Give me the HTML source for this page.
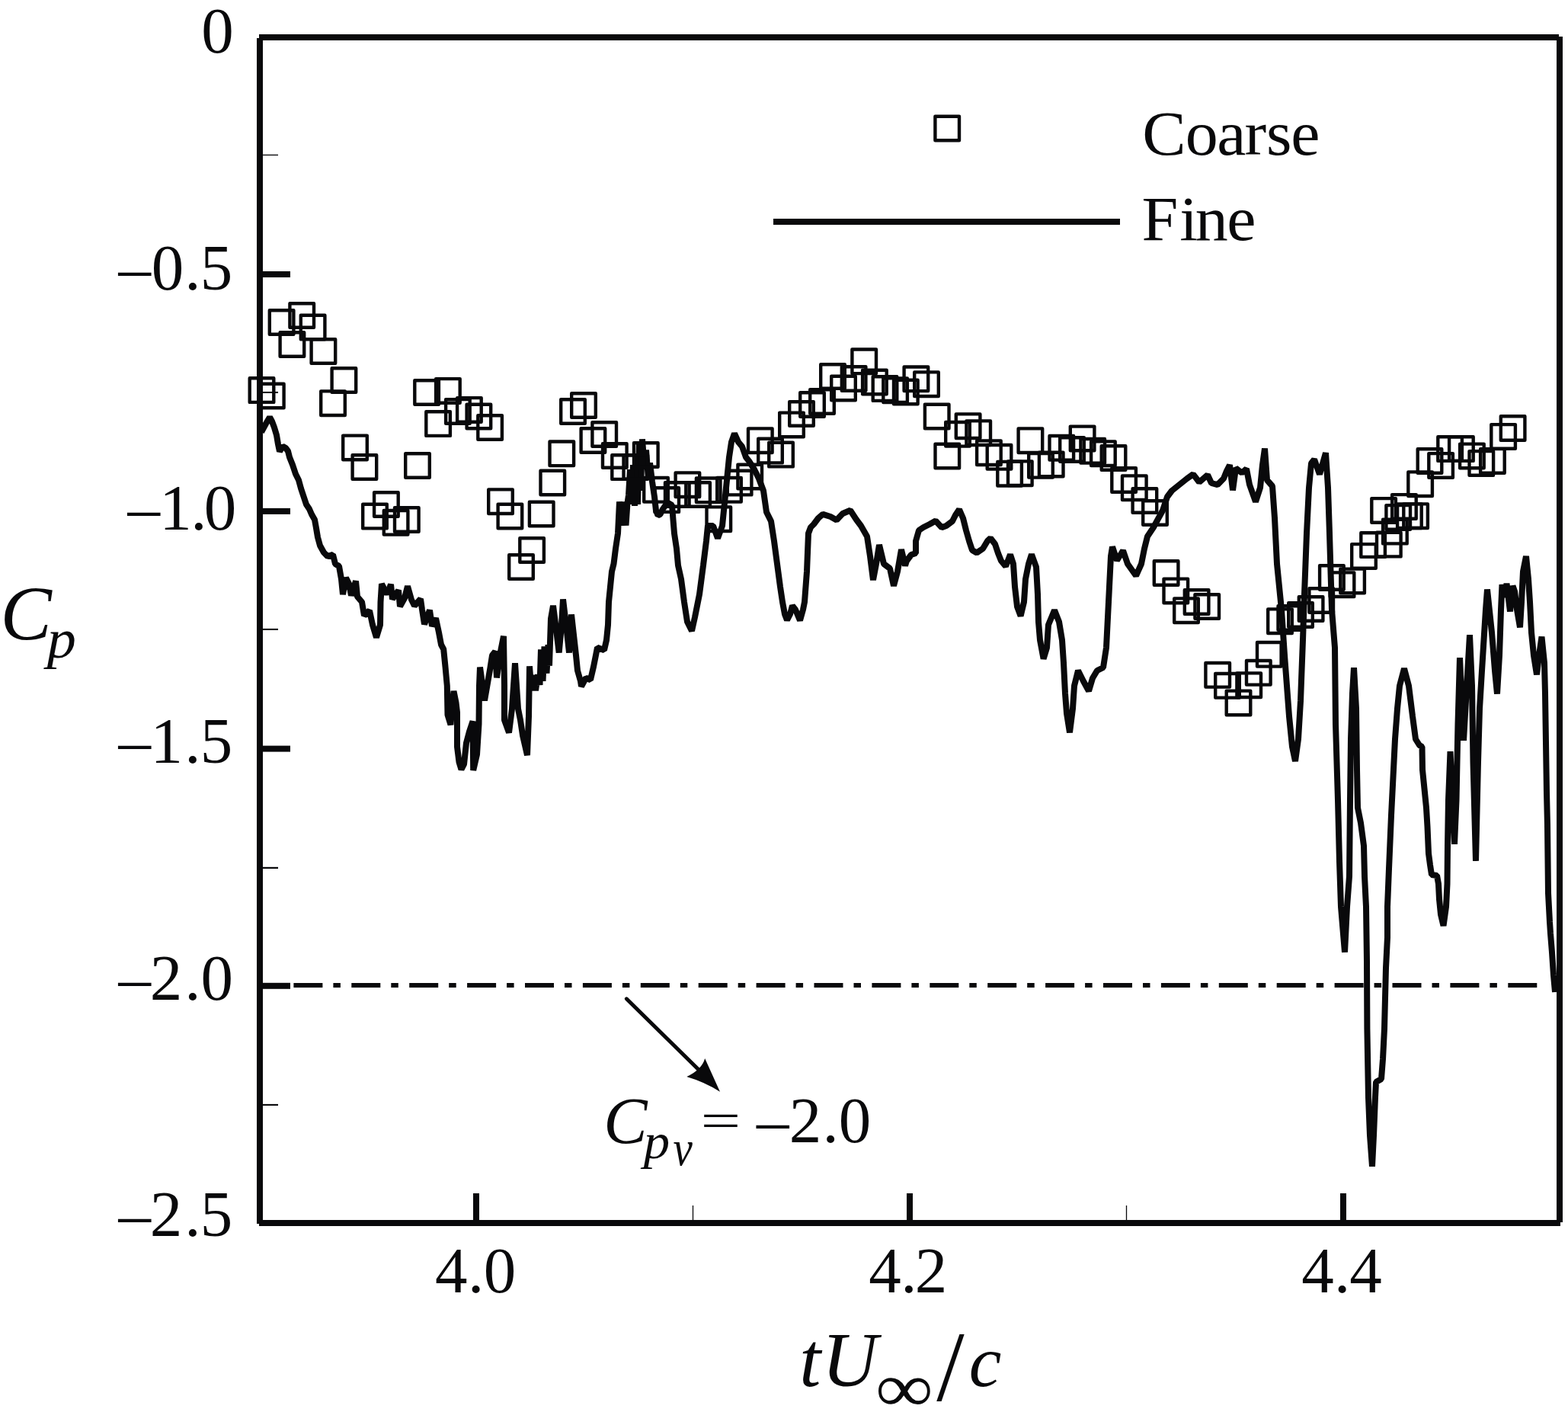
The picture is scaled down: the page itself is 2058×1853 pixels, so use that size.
<!DOCTYPE html>
<html lang="en">
<head>
<meta charset="utf-8">
<title>Cp time history: coarse vs fine</title>
<style>
html,body{margin:0;padding:0;background:#fff;}
body{width:2058px;height:1853px;overflow:hidden;}
svg{display:block;}
text{white-space:pre;}
</style>
</head>
<body>
<svg xmlns="http://www.w3.org/2000/svg" width="2058" height="1853" viewBox="0 0 2058 1853">
<g fill="#09090b">
<rect x="340" y="45" width="1706" height="8"/>
<rect x="340" y="1601" width="1708" height="8"/>
<rect x="337" y="50" width="8" height="1556"/>
<rect x="2043" y="48" width="8" height="1556"/>
<rect x="344" y="356" width="37" height="8"/>
<rect x="344" y="666.9" width="37" height="8"/>
<rect x="344" y="978.6" width="37" height="8"/>
<rect x="344" y="1289.8" width="37" height="8"/>
<rect x="621" y="1566" width="8" height="36"/>
<rect x="1190" y="1566" width="8" height="36"/>
<rect x="1759" y="1566" width="8" height="36"/>
<rect x="344" y="202.76" width="21" height="1.36"/>
<rect x="344" y="513.97" width="21" height="2.03"/>
<rect x="344" y="824.9" width="21" height="2.1"/>
<rect x="344" y="1137.8" width="21" height="2.24"/>
<rect x="344" y="1448.87" width="21" height="2.11"/>
<rect x="908.85" y="1582" width="1.3" height="20"/>
<rect x="1477.85" y="1582" width="1.3" height="20"/>
</g>
<line x1="385.4" y1="1293" x2="2017.4" y2="1293" stroke="#09090b" stroke-width="6" stroke-dasharray="38 14 9.5 14.4"/>
<clipPath id="plotclip"><rect x="341" y="49" width="1706" height="1556"/></clipPath>
<polyline clip-path="url(#plotclip)" fill="none" stroke="#09090b" stroke-width="8" stroke-linejoin="bevel" points="343,567 349,556 354,547.4 357,553 360,561 363,571 365,583 367,592.5 371,585.58 375,588 378,592 380,600 384,610 388,622 392,630 395,641 399,653 402,662 406,668 409,675 413,682 415,693 417,705 420,716 425,725 430,730.15 437,727.85 440,740 445,743 448,760 450,780.08 454,758.22 458,766 461,781.42 467,762.58 469,783 475,790 478,807.75 485,801.25 489,820 494,836.65 499,820 499.5,790 501,766.29 508,779.71 513,766.94 515,786.34 523,774.66 525,795.78 531,785 535,769.26 540,787 544,794.99 552,786.01 554,800 557,819.21 564,800.79 567,821.68 572,811.32 576,830 579,846 582.2,852 584.5,875 586.8,900 587.5,938 591.5,951.08 593.8,922 595.5,906.97 598.5,922 600,935 600,980 602.5,1000 605.5,1009.71 609,1003 612,975 616,960 620.5,946.51 621.2,1010.97 626,990 628.5,950 629,900 630,875.64 636,919.26 643,879 646,860 650,854.83 652,889.39 656,860 661,834.89 662,900 662,945 668,961.42 672,930 676,870.28 680,930 683,945 686,965 692,990.99 694,940 695,874.4 697.5,906.03 701,885.97 703,906.22 706,885.19 708.5,898.81 710,852.29 712.5,893.71 714.5,848.43 717.5,883.57 719.5,846.3 721,873.7 723,812 726,794.84 730,826 733.7,856.46 737,820 739,786.53 743,820 747,856.52 750,806.48 756,860 758,880 762,894 763,900.78 769,889.79 775,892.21 779,875 782,860 784,849.79 793,853.21 796,840 798,820 799,790 801,770 803,750 805.5,740 808,720 811,700 813,658.5 816,689.5 818.5,658.5 821.5,689.5 823.5,660 825,650 827,616.27 829,661.79 831,610.18 833,663.83 835,598.14 837,661.86 839,583.15 841,643.85 843,576.37 846,615.56 848,590.44 851,629.47 853,607.57 856,632 859,652 861,670 863.5,676.21 866.5,675 870,668 876,659.58 882,663 883.5,682 885,700 888,720 890,742 894,760 898,790 902,816 908,827.94 912,810 918,780 923,742 927,710 929,690 936,690 942,706.42 948,690 951,660 954,630 957,600 960,580 964,568.94 969,580 974,586 979,600 983,605 990,616 996,628 1002,644 1006,672 1012,684 1016,710 1020,740 1024,770 1027,790 1030,806 1033,813.78 1037,806 1040,794.83 1044,800 1050,814.21 1054,800 1056,790 1059,750 1061,700 1064,692 1068,688 1074,680 1080,674.83 1090,678 1098,682.42 1106,674 1116,669.71 1124,682 1130,690 1138,704 1142,730 1146,761.13 1150,740 1154,715.05 1160,740 1168,746 1173,768.81 1178,750 1183,721.19 1188,742.21 1190,736 1196,728 1202,726 1202,710 1206,696 1212,692 1220,688 1228,683.58 1236,692.21 1242,690 1250,684 1254,676 1259,668.56 1264,680 1268,696 1272,710 1276,722 1282,725.42 1290,720 1296,710 1300,706.2 1306,714 1310,726 1314,736 1320,743.17 1326,727.79 1330,740 1332,770 1335,796 1339.6,808.33 1344,790 1346,760 1350,740 1354,727.58 1360,744 1362,780 1363,816 1365,840 1369.6,864.62 1374,850 1376,820 1384,800.7 1390,816 1394,840 1396,870 1398,910 1400,936 1404,961.28 1408,930 1410,900 1415,880.02 1422,894 1429,906.85 1434,890 1440,880 1448,876 1452,850 1454,810 1456,770 1458,730 1460,717.58 1466,735.5 1474,722.5 1480,740 1491,755.53 1498,740 1502,720 1506,704 1514,692 1526,670 1532,652 1538,644 1548,636 1558,628 1566,622.39 1574,632.77 1585,623.23 1590,634 1598,636.12 1606,628 1610,618 1614,610.22 1618,643.37 1622,614.39 1630,620.61 1636,615.33 1640,636 1648,658.51 1654,640 1657,610 1660,588.66 1663,630 1670,638 1673,680 1676,740 1682,800 1686,860 1689,900 1692,940 1696,980 1700,999.03 1704,970 1707,920 1710,840 1712,780 1715,700 1718,640 1721,608 1725,602.83 1732,622.4 1740,594.31 1743,640 1745,700 1748,800 1752,850 1753,950 1756,1050 1758,1130 1760,1190 1765,1249.64 1768,1190 1771,1150 1772,1050 1773,970 1775,910 1777,876.27 1780,930 1781,1010 1782,1060 1786,1080 1790,1110 1791,1150 1793,1190 1794,1262 1794.4,1350 1796,1440 1798,1490 1801,1530.68 1803,1490 1805,1440 1806,1420 1813,1416 1815,1390 1817,1350 1818,1310 1819,1270 1821,1230 1821,1190 1823,1140 1826,1070 1829,1010 1831,970 1834,930 1837,900 1843,877.15 1849,900 1854,940 1858,970 1863,978 1866.5,980 1867,1010 1870,1040 1872,1060 1873.5,1085 1875,1120 1877,1135 1879,1148 1886,1149 1888,1160 1889,1180 1891,1200 1894.5,1214.88 1898,1190 1899.5,1160 1900,1110 1901,1050 1903.5,986.2 1906,1040 1909,1107.81 1911.5,1050 1913.5,950 1916,863.2 1921,971.76 1929,833.24 1932,900 1933.5,1000 1937,1129.89 1940,1000 1942,930 1945,880 1950,800 1952,773.45 1958,830 1962,880 1965,910.56 1968,860 1970,800 1971.5,767.21 1975,783.79 1977.5,765.82 1982,802.41 1985.5,768.79 1988,776 1991,800 1995,823.22 1997,790 1999,750 2003,729.92 2006,760 2008,790 2010,830 2013,860 2017,885.28 2020,860 2023.5,835.66 2027,870 2028,910 2029,975 2030,1040 2031,1083 2032,1172 2034,1210 2035,1225 2037,1250 2039,1280 2041,1302"/>
<g fill="none" stroke="#09090b" stroke-width="4.4" stroke-linejoin="round">
<rect x="327.7" y="496.3" width="31.6" height="31.6"/>
<rect x="341" y="503.7" width="31.6" height="31.6"/>
<rect x="353.8" y="407.2" width="31.6" height="31.6"/>
<rect x="367.6" y="436.2" width="31.6" height="31.6"/>
<rect x="380.4" y="398.2" width="31.6" height="31.6"/>
<rect x="394.8" y="413.7" width="31.6" height="31.6"/>
<rect x="408.6" y="445.2" width="31.6" height="31.6"/>
<rect x="421.2" y="513.4" width="31.6" height="31.6"/>
<rect x="435.6" y="483.2" width="31.6" height="31.6"/>
<rect x="450.2" y="571.6" width="31.6" height="31.6"/>
<rect x="462.6" y="597.2" width="31.6" height="31.6"/>
<rect x="476.2" y="661.8" width="31.6" height="31.6"/>
<rect x="491.1" y="646.2" width="31.6" height="31.6"/>
<rect x="503.8" y="670" width="31.6" height="31.6"/>
<rect x="518" y="666.2" width="31.6" height="31.6"/>
<rect x="532.2" y="595.2" width="31.6" height="31.6"/>
<rect x="544.3" y="499.2" width="31.6" height="31.6"/>
<rect x="559.3" y="540.3" width="31.6" height="31.6"/>
<rect x="572.1" y="497.1" width="31.6" height="31.6"/>
<rect x="585.1" y="524.1" width="31.6" height="31.6"/>
<rect x="600.1" y="522.1" width="31.6" height="31.6"/>
<rect x="612.6" y="530.7" width="31.6" height="31.6"/>
<rect x="627.3" y="545.2" width="31.6" height="31.6"/>
<rect x="641.2" y="642.4" width="31.6" height="31.6"/>
<rect x="653.6" y="661.7" width="31.6" height="31.6"/>
<rect x="668.2" y="728.2" width="31.6" height="31.6"/>
<rect x="682.3" y="706.2" width="31.6" height="31.6"/>
<rect x="694.9" y="658.7" width="31.6" height="31.6"/>
<rect x="709.5" y="617.7" width="31.6" height="31.6"/>
<rect x="721.5" y="579.5" width="31.6" height="31.6"/>
<rect x="736.2" y="524.2" width="31.6" height="31.6"/>
<rect x="750.2" y="516.2" width="31.6" height="31.6"/>
<rect x="762.6" y="562.2" width="31.6" height="31.6"/>
<rect x="777.4" y="554.2" width="31.6" height="31.6"/>
<rect x="791" y="582.2" width="31.6" height="31.6"/>
<rect x="803.3" y="597.3" width="31.6" height="31.6"/>
<rect x="818.5" y="597.2" width="31.6" height="31.6"/>
<rect x="832" y="581.2" width="31.6" height="31.6"/>
<rect x="845.2" y="627" width="31.6" height="31.6"/>
<rect x="859.4" y="640.3" width="31.6" height="31.6"/>
<rect x="873" y="633.2" width="31.6" height="31.6"/>
<rect x="886.6" y="620.4" width="31.6" height="31.6"/>
<rect x="900.3" y="633.2" width="31.6" height="31.6"/>
<rect x="913.9" y="627.5" width="31.6" height="31.6"/>
<rect x="927.5" y="665.4" width="31.6" height="31.6"/>
<rect x="941.2" y="627" width="31.6" height="31.6"/>
<rect x="954.8" y="617.8" width="31.6" height="31.6"/>
<rect x="968.4" y="609.7" width="31.6" height="31.6"/>
<rect x="982" y="562.4" width="31.6" height="31.6"/>
<rect x="995.2" y="575.8" width="31.6" height="31.6"/>
<rect x="1009.2" y="580.8" width="31.6" height="31.6"/>
<rect x="1023.2" y="541.6" width="31.6" height="31.6"/>
<rect x="1036.2" y="527.2" width="31.6" height="31.6"/>
<rect x="1050.2" y="515.2" width="31.6" height="31.6"/>
<rect x="1063.2" y="511.2" width="31.6" height="31.6"/>
<rect x="1077.2" y="478.2" width="31.6" height="31.6"/>
<rect x="1091.2" y="493.7" width="31.6" height="31.6"/>
<rect x="1104.8" y="481.2" width="31.6" height="31.6"/>
<rect x="1118.4" y="458.5" width="31.6" height="31.6"/>
<rect x="1132.1" y="485.7" width="31.6" height="31.6"/>
<rect x="1145.7" y="494.3" width="31.6" height="31.6"/>
<rect x="1159.3" y="496.4" width="31.6" height="31.6"/>
<rect x="1173" y="498.7" width="31.6" height="31.6"/>
<rect x="1186.6" y="481.5" width="31.6" height="31.6"/>
<rect x="1200.2" y="488.4" width="31.6" height="31.6"/>
<rect x="1213.9" y="530.7" width="31.6" height="31.6"/>
<rect x="1227.5" y="582.7" width="31.6" height="31.6"/>
<rect x="1241.2" y="554" width="31.6" height="31.6"/>
<rect x="1254.8" y="543.4" width="31.6" height="31.6"/>
<rect x="1268.4" y="552.4" width="31.6" height="31.6"/>
<rect x="1282.1" y="578.4" width="31.6" height="31.6"/>
<rect x="1295.7" y="584" width="31.6" height="31.6"/>
<rect x="1309.3" y="605.9" width="31.6" height="31.6"/>
<rect x="1323" y="605.4" width="31.6" height="31.6"/>
<rect x="1336.6" y="562.4" width="31.6" height="31.6"/>
<rect x="1350.2" y="595" width="31.6" height="31.6"/>
<rect x="1363.9" y="593.7" width="31.6" height="31.6"/>
<rect x="1377.5" y="572" width="31.6" height="31.6"/>
<rect x="1391.2" y="574.2" width="31.6" height="31.6"/>
<rect x="1404.8" y="559.6" width="31.6" height="31.6"/>
<rect x="1418.4" y="576" width="31.6" height="31.6"/>
<rect x="1432.1" y="579.4" width="31.6" height="31.6"/>
<rect x="1445.7" y="585.2" width="31.6" height="31.6"/>
<rect x="1459.3" y="614.2" width="31.6" height="31.6"/>
<rect x="1473" y="624.4" width="31.6" height="31.6"/>
<rect x="1486.6" y="641.2" width="31.6" height="31.6"/>
<rect x="1500.2" y="657.2" width="31.6" height="31.6"/>
<rect x="1514.8" y="736.2" width="31.6" height="31.6"/>
<rect x="1527.5" y="759.6" width="31.6" height="31.6"/>
<rect x="1541.2" y="785.4" width="31.6" height="31.6"/>
<rect x="1554.8" y="774.2" width="31.6" height="31.6"/>
<rect x="1568.4" y="780.2" width="31.6" height="31.6"/>
<rect x="1582.4" y="870" width="31.6" height="31.6"/>
<rect x="1595.2" y="884" width="31.6" height="31.6"/>
<rect x="1609.7" y="906.6" width="31.6" height="31.6"/>
<rect x="1623.4" y="883.4" width="31.6" height="31.6"/>
<rect x="1636" y="867" width="31.6" height="31.6"/>
<rect x="1650" y="843" width="31.6" height="31.6"/>
<rect x="1664.2" y="799.4" width="31.6" height="31.6"/>
<rect x="1677.5" y="795.2" width="31.6" height="31.6"/>
<rect x="1691.2" y="791.2" width="31.6" height="31.6"/>
<rect x="1704.8" y="783.2" width="31.6" height="31.6"/>
<rect x="1718.4" y="772.2" width="31.6" height="31.6"/>
<rect x="1732.1" y="742.2" width="31.6" height="31.6"/>
<rect x="1745.7" y="751.4" width="31.6" height="31.6"/>
<rect x="1759.3" y="746.6" width="31.6" height="31.6"/>
<rect x="1774.2" y="714.1" width="31.6" height="31.6"/>
<rect x="1786.3" y="699.3" width="31.6" height="31.6"/>
<rect x="1800.3" y="654.1" width="31.6" height="31.6"/>
<rect x="1807" y="698.8" width="31.6" height="31.6"/>
<rect x="1815.1" y="681.8" width="31.6" height="31.6"/>
<rect x="1819.4" y="663.1" width="31.6" height="31.6"/>
<rect x="1827.1" y="649.1" width="31.6" height="31.6"/>
<rect x="1834.1" y="661.4" width="31.6" height="31.6"/>
<rect x="1842.3" y="661.4" width="31.6" height="31.6"/>
<rect x="1848.3" y="619.4" width="31.6" height="31.6"/>
<rect x="1860.7" y="589.2" width="31.6" height="31.6"/>
<rect x="1875.3" y="595.1" width="31.6" height="31.6"/>
<rect x="1887.3" y="573.3" width="31.6" height="31.6"/>
<rect x="1902.1" y="573.3" width="31.6" height="31.6"/>
<rect x="1916.1" y="582.6" width="31.6" height="31.6"/>
<rect x="1928.5" y="592.1" width="31.6" height="31.6"/>
<rect x="1943.1" y="589.1" width="31.6" height="31.6"/>
<rect x="1957.3" y="557.1" width="31.6" height="31.6"/>
<rect x="1969.8" y="546.2" width="31.6" height="31.6"/>
<rect x="1227.4" y="152.7" width="31.6" height="31.6"/>
</g>
<rect x="1015" y="287" width="455" height="8" fill="#09090b"/>
<line x1="822.3" y1="1310.8" x2="918" y2="1404.7" stroke="#09090b" stroke-width="5" stroke-linecap="round"/>
<path d="M945 1432.7 L925.2 1389.1 Q921 1404 901.3 1413 Q925 1420 945 1432.7Z" fill="#09090b"/>
<g font-family="'Liberation Serif', 'DejaVu Serif', serif" fill="#09090b">
<text x="264.36" y="69.4" font-size="85">0</text>
<text x="155.58 198.86 242.2 262.76" y="380.4" font-size="85">–0.5</text>
<text x="167.58 209.37 250.2 267.76" y="695.2" font-size="85">–1.0</text>
<text x="155.58 197.47 242.2 262.76" y="1001.3" font-size="85">–1.5</text>
<text x="155.58 196.76 242.2 263.46" y="1312.1" font-size="85">–2.0</text>
<text x="155.58 196.76 242.2 262.76" y="1622.1" font-size="85">–2.5</text>
<text x="571.04 614 634.76" y="1696" font-size="85">4.0</text>
<text x="1140.34 1182.2 1200.76" y="1696" font-size="85">4.2</text>
<text x="1708.14 1751.1 1771.14" y="1696" font-size="85">4.4</text>
<text x="1499.37 1555.72 1597.28 1633.48 1662.07 1694.14" y="202.8" font-size="86" transform="translate(0 202.8) scale(1 0.96) translate(0 -202.8)">Coarse</text>
<text x="1498.52 1548.19 1568.73 1610.34" y="314.9" font-size="86" transform="translate(0 314.9) scale(1 0.96) translate(0 -314.9)">Fine</text>
<text x="0.38" y="839.5" font-size="101" font-style="italic">C</text>
<text x="58.37" y="863.3" font-size="72" font-style="italic" transform="translate(0 863.3) scale(1.06 1) translate(0 -863.3)">p</text>
<text x="1049.16 1078.73" y="1818.5" font-size="101" font-style="italic">tU</text>
<text x="982.89" y="1852.3" font-size="91" transform="translate(0 1852.3) scale(1.169 1) translate(0 -1852.3)">∞</text>
<text x="1229.3" y="1837.6" font-size="131">/</text>
<text x="1271.65" y="1818.5" font-size="96" font-style="italic">c</text>
<text x="792.21" y="1500" font-size="86" font-style="italic">C</text>
<text x="796.83" y="1520.5" font-size="65" font-style="italic" transform="translate(0 1520.5) scale(1.06 1) translate(0 -1520.5)">p</text>
<text x="1004" y="1529" font-size="65" font-style="italic" transform="translate(0 1529) scale(0.88 1) translate(0 -1529)">v</text>
<text x="843.61" y="1493.2" font-size="86" transform="translate(0 1493.2) scale(1.09 0.75) translate(0 -1493.2)">=</text>
<text x="992.88 1035.76 1079.6 1100.76" y="1499.2" font-size="85">–2.0</text>
</g>
</svg>
</body>
</html>
